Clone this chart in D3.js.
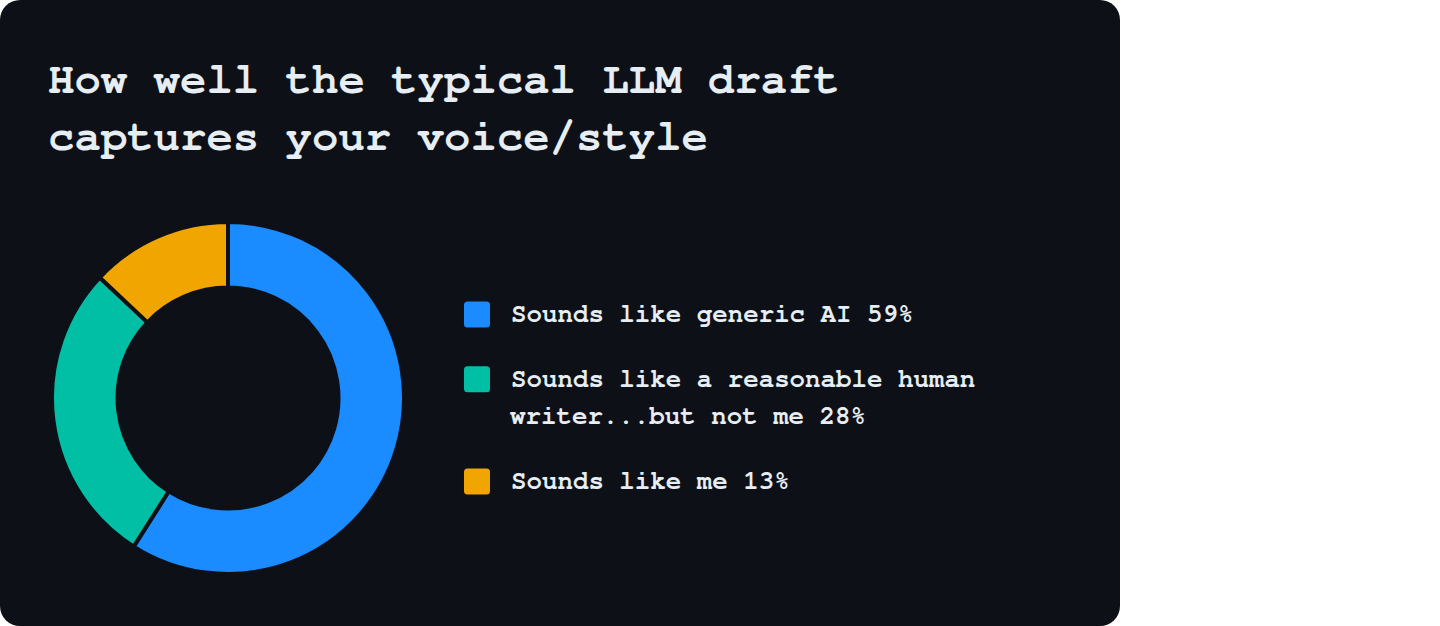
<!DOCTYPE html>
<html>
<head>
<meta charset="utf-8">
<script src="https://cdn.jsdelivr.net/npm/d3@7"></script>
<style>
  html, body { margin: 0; padding: 0; background: #ffffff; }
  svg { display: block; }
</style>
</head>
<body>
<svg id="chart"></svg>
<script>
const width = 1440;
const height = 626;

// data
const titleLines = ['How well the typical LLM draft', 'captures your voice/style'];
const labels = ['Sounds like generic AI', 'Sounds like a reasonable human writer...but not me', 'Sounds like me'];
const values = [59, 28, 13];
const colors = ['#1a8cff', '#00bfa5', '#f0a500'];

const bg = '#0d1117';
const ink = '#e6edf3';
const font = '"FreeMono", "Courier New", monospace';

const svg = d3.select('#chart')
    .attr('width', width)
    .attr('height', height);

// card
svg.append('rect')
    .attr('x', 0).attr('y', 0)
    .attr('width', 1120).attr('height', 626)
    .attr('rx', 20)
    .attr('fill', bg);

// title
svg.append('text')
    .attr('x', 48)
    .attr('y', 92.5)
    .style('font-family', font)
    .style('font-weight', 'bold')
    .style('font-size', '44px')
    .attr('fill', ink)
    .selectAll('tspan')
    .data(titleLines)
    .join('tspan')
    .attr('x', 48)
    .attr('dy', (d, i) => i === 0 ? 0 : 57)
    .text(d => d);

// donut (stroke in card colour eats 2px on each edge)
const cx = 228, cy = 398, outerR = 176, innerR = 110.5;

const pie = d3.pie().sort(null).value(d => d);
const arc = d3.arc().innerRadius(innerR).outerRadius(outerR);

svg.append('g')
    .attr('transform', `translate(${cx},${cy})`)
    .selectAll('path')
    .data(pie(values))
    .join('path')
    .attr('d', arc)
    .attr('fill', (d, i) => colors[i])
    .attr('stroke', bg)
    .attr('stroke-width', 4)
    .attr('stroke-linejoin', 'round');

// legend
const legendX = 464;
const textX = 511;
const maxTextW = 480;
const lineH = 37.5;
const itemGap = 27.3;
const sq = 26;
const capMid = 7.5;   // half of the cap height

const legend = svg.append('g');
let y = 322;   // baseline of first line
labels.forEach((lab, i) => {
    const item = legend.append('g');
    item.append('rect')
        .attr('x', legendX)
        .attr('y', y - capMid - sq / 2)
        .attr('width', sq)
        .attr('height', sq)
        .attr('rx', 3.5)
        .attr('fill', colors[i]);

    const txt = item.append('text')
        .attr('x', textX)
        .attr('y', y)
        .style('font-family', font)
        .style('font-weight', 'bold')
        .style('font-size', '25.8px')
        .attr('fill', ink);

    // wrap words to the legend width
    const words = (lab + ' ' + values[i] + '%').split(' ');
    let line = [];
    let tspan = txt.append('tspan').attr('x', textX).attr('dy', 0);
    let n = 0;
    words.forEach(w => {
        line.push(w);
        tspan.text(line.join(' '));
        if (tspan.node().getComputedTextLength() > maxTextW && line.length > 1) {
            line.pop();
            tspan.text(line.join(' '));
            line = [w];
            n++;
            tspan = txt.append('tspan').attr('x', textX - 1).attr('dy', lineH).text(w);
        }
    });
    y += (n + 1) * lineH + itemGap;
});
</script>
</body>
</html>
